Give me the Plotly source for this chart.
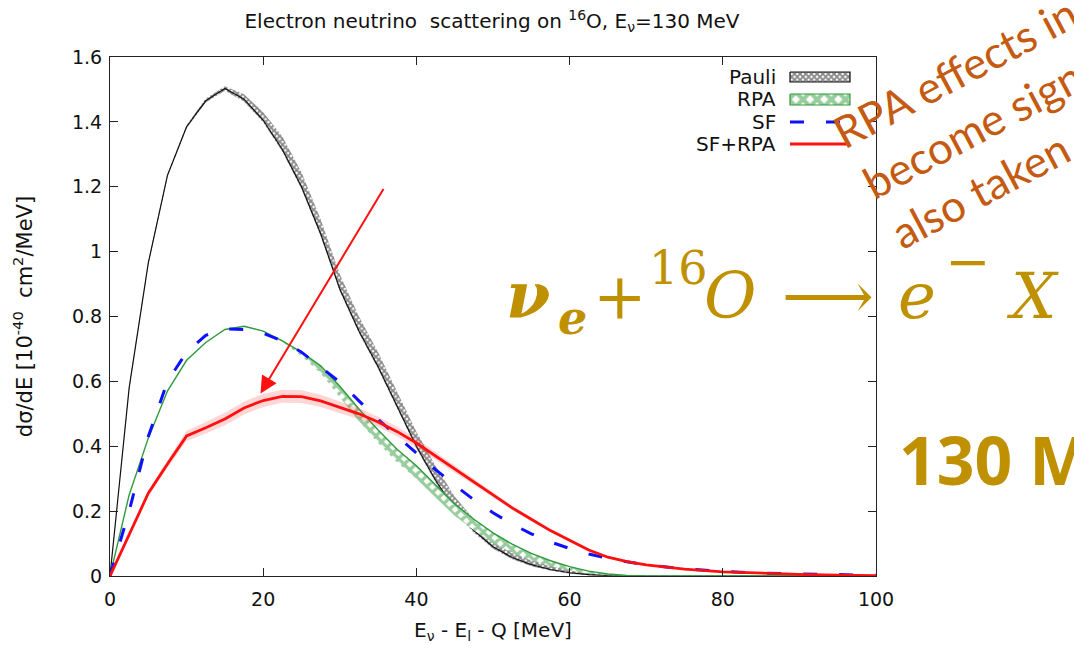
import plotly.graph_objects as go

# Energy transfer grid [MeV]
energy = [0, 2.5, 5, 7.5, 10, 12.5, 15, 17.5, 20, 22.5, 25, 27.5, 30, 32.5, 35, 37.5,
          40, 42.5, 45, 47.5, 50, 52.5, 55, 57.5, 60, 62.5, 65, 67.5, 70, 75, 80, 85,
          90, 95, 100]

# dσ/dE [1e-40 cm^2/MeV]
pauli = [0, 0.58, 0.965, 1.235, 1.385, 1.465, 1.503, 1.47, 1.405, 1.315, 1.2, 1.055,
         0.885, 0.755, 0.645, 0.52, 0.4, 0.295, 0.205, 0.14, 0.09, 0.057, 0.035, 0.02,
         0.01, 0.004, 0.001, 0, 0, 0, 0, 0, 0, 0, 0]
pauli_band_lo = [0, 0.575, 0.96, 1.23, 1.38, 1.46, 1.496, 1.462, 1.398, 1.308, 1.193,
                 1.048, 0.878, 0.748, 0.638, 0.513, 0.393, 0.288, 0.198, 0.133, 0.084,
                 0.052, 0.03, 0.016, 0.007, 0.002, 0, 0, 0, 0, 0, 0, 0, 0, 0]
pauli_band_hi = [0, 0.585, 0.97, 1.24, 1.39, 1.472, 1.51, 1.485, 1.43, 1.355, 1.245,
                 1.1, 0.93, 0.8, 0.69, 0.565, 0.445, 0.34, 0.245, 0.175, 0.12, 0.082,
                 0.054, 0.033, 0.018, 0.009, 0.003, 0, 0, 0, 0, 0, 0, 0, 0]

rpa = [0, 0.25, 0.425, 0.57, 0.665, 0.72, 0.76, 0.77, 0.755, 0.725, 0.69, 0.648, 0.585,
       0.515, 0.45, 0.39, 0.34, 0.28, 0.222, 0.175, 0.133, 0.098, 0.07, 0.047, 0.029,
       0.015, 0.006, 0.002, 0, 0, 0, 0, 0, 0, 0]
rpa_band_lo = [0, 0.25, 0.425, 0.57, 0.665, 0.72, 0.76, 0.77, 0.755, 0.722, 0.678,
               0.625, 0.55, 0.477, 0.41, 0.35, 0.3, 0.242, 0.186, 0.141, 0.102, 0.071,
               0.048, 0.03, 0.017, 0.008, 0.002, 0, 0, 0, 0, 0, 0, 0, 0]

sf = [0, 0.2, 0.43, 0.6, 0.69, 0.742, 0.762, 0.76, 0.748, 0.725, 0.69, 0.645, 0.598,
      0.54, 0.483, 0.43, 0.378, 0.328, 0.28, 0.235, 0.195, 0.16, 0.13, 0.105, 0.085,
      0.068, 0.054, 0.043, 0.034, 0.022, 0.014, 0.009, 0.006, 0.004, 0.002]

sf_rpa = [0, 0.125, 0.255, 0.345, 0.432, 0.457, 0.484, 0.518, 0.541, 0.554, 0.553, 0.54,
          0.52, 0.5, 0.475, 0.445, 0.41, 0.37, 0.33, 0.29, 0.25, 0.21, 0.175, 0.14,
          0.11, 0.08, 0.058, 0.044, 0.034, 0.021, 0.013, 0.008, 0.005, 0.003, 0.001]
sf_rpa_halfwidth = [0, 0.005, 0.008, 0.011, 0.016, 0.018, 0.019, 0.02, 0.02, 0.02,
                    0.02, 0.019, 0.018, 0.017, 0.016, 0.015, 0.014, 0.012, 0.01,
                    0.009, 0.008, 0.007, 0.006, 0.005, 0.005, 0.004, 0.004, 0.003,
                    0.003, 0.002, 0.002, 0.001, 0.001, 0.001, 0]

x_ticks = [0, 20, 40, 60, 80, 100]
y_ticks = [0, 0.2, 0.4, 0.6, 0.8, 1.0, 1.2, 1.4, 1.6]

legend_labels = ["Pauli", "RPA", "SF", "SF+RPA"]

# --- layout constants ---------------------------------------------------------
W, H = 1074, 649
L, R, T, B = 110, 198, 57, 73
AX_FONT = "DejaVu Sans, Verdana, sans-serif"
FS = 20
BLACK = "#111111"
GREEN = "#2f9a3c"
BLUE = "#1010ff"
RED = "#ff1010"
ORANGE = "#c55a11"
GOLD = "#bf9000"

PAULI_HATCH = dict(shape="x", fgcolor="#111111", bgcolor="white", size=4, solidity=0.7)
RPA_HATCH = dict(shape="x", fgcolor=GREEN, bgcolor="white", size=8, solidity=0.65)


def paper(xp, yp):
    """Convert page pixel position to paper fractions."""
    return (xp - L) / (W - L - R), (H - B - yp) / (H - T - B)


def band(x, lo, hi):
    return x + x[::-1], hi + lo[::-1]


fig = go.Figure()

# Pauli: hatched band with its central curve
bx, by = band(energy, pauli_band_lo, pauli_band_hi)
fig.add_trace(go.Scatter(x=bx, y=by, mode="lines", fill="toself",
                         line=dict(width=0, color=BLACK), fillcolor="rgba(0,0,0,0)",
                         fillpattern=PAULI_HATCH, hoverinfo="skip", showlegend=False))
fig.add_trace(go.Scatter(x=energy, y=pauli, mode="lines",
                         line=dict(color=BLACK, width=1.2), showlegend=False))

# RPA: hatched band with its central curve
bx, by = band(energy, rpa_band_lo, rpa)
fig.add_trace(go.Scatter(x=bx, y=by, mode="lines", fill="toself",
                         line=dict(width=0, color=GREEN), fillcolor="rgba(0,0,0,0)",
                         fillpattern=RPA_HATCH, hoverinfo="skip", showlegend=False))
fig.add_trace(go.Scatter(x=energy, y=rpa, mode="lines",
                         line=dict(color=GREEN, width=1.4), showlegend=False))

# SF: dashed blue
fig.add_trace(go.Scatter(x=energy, y=sf, mode="lines",
                         line=dict(color=BLUE, width=3, dash="14px,22px"),
                         showlegend=False))

# SF+RPA: red curve with a soft uncertainty band
lo = [v - w for v, w in zip(sf_rpa, sf_rpa_halfwidth)]
hi = [v + w for v, w in zip(sf_rpa, sf_rpa_halfwidth)]
bx, by = band(energy, lo, hi)
fig.add_trace(go.Scatter(x=bx, y=by, mode="lines", fill="toself",
                         line=dict(width=0, color=RED), fillcolor="rgba(255,70,70,0.22)",
                         hoverinfo="skip", showlegend=False))
fig.add_trace(go.Scatter(x=energy, y=sf_rpa, mode="lines",
                         line=dict(color=RED, width=2.8), showlegend=False))

# --- key (drawn on a pixel-unit overlay axis) ---------------------------------
key_rows = [77, 99, 122, 144]
key_x0, key_x1 = 790, 850
fig.add_trace(go.Scatter(x=[key_x0, key_x1, key_x1, key_x0, key_x0],
                         y=[72, 72, 82, 82, 72], xaxis="x2", yaxis="y2",
                         mode="lines", fill="toself", fillcolor="rgba(0,0,0,0)",
                         line=dict(color=BLACK, width=1.2), fillpattern=PAULI_HATCH,
                         hoverinfo="skip", showlegend=False))
fig.add_trace(go.Scatter(x=[key_x0, key_x1, key_x1, key_x0, key_x0],
                         y=[94, 94, 105, 105, 94], xaxis="x2", yaxis="y2",
                         mode="lines", fill="toself", fillcolor="rgba(0,0,0,0)",
                         line=dict(color=GREEN, width=1.2),
                         fillpattern=dict(RPA_HATCH, size=10),
                         hoverinfo="skip", showlegend=False))
fig.add_trace(go.Scatter(x=[key_x0, key_x1], y=[key_rows[2]] * 2, xaxis="x2", yaxis="y2",
                         mode="lines", line=dict(color=BLUE, width=3, dash="14px,22px"),
                         hoverinfo="skip", showlegend=False))
fig.add_trace(go.Scatter(x=[key_x0, key_x1], y=[key_rows[3]] * 2, xaxis="x2", yaxis="y2",
                         mode="lines", line=dict(color=RED, width=2.8),
                         hoverinfo="skip", showlegend=False))

annotations = []
for label, yp in zip(legend_labels, key_rows):
    px_, py_ = paper(778, yp)
    annotations.append(dict(text=label, x=px_, y=py_, xref="paper", yref="paper",
                            xanchor="right", yanchor="middle", showarrow=False,
                            font=dict(family=AX_FONT, size=FS, color=BLACK)))

# red pointer arrow onto the SF+RPA curve
annotations.append(dict(x=19.65, y=0.563, ax=35.82, ay=1.198, xref="x", yref="y",
                        axref="x", ayref="y", text="", showarrow=True, arrowhead=2,
                        arrowsize=1.7, arrowwidth=2, arrowcolor=RED, standoff=0))

# rotated remark
for line, (xp, yp) in zip(["RPA effects in", "become sign", "also taken"],
                          [(822, 161), (851, 211), (879, 261)]):
    px_, py_ = paper(xp, yp)
    annotations.append(dict(text=line, x=px_, y=py_, xref="paper", yref="paper",
                            xanchor="left", yanchor="bottom", textangle=-28,
                            showarrow=False,
                            font=dict(family="Lato, Open Sans, sans-serif", size=44,
                                      color=ORANGE)))

# reaction equation
MATH = "DejaVu Serif, DejaVu Sans, serif"
eq_parts = [
    ("<b><i>ν</i></b>", 528, 294, 64),
    ("<b><i>e</i></b>", 572, 318, 46),
    ("+", 620, 296, 64),
    ("16", 678, 268, 46),
    ("<i>O</i>", 730, 296, 64),
    ("⟶", 828, 296, 64),
    ("<i>e</i>", 917, 296, 64),
    ("−", 967, 261, 54),
    ("<i>X</i>", 1032, 296, 64),
]
for txt, xp, yp, size in eq_parts:
    px_, py_ = paper(xp, yp)
    annotations.append(dict(text=txt, x=px_, y=py_, xref="paper", yref="paper",
                            xanchor="center", yanchor="middle", showarrow=False,
                            font=dict(family=MATH, size=size, color=GOLD)))

px_, py_ = paper(897, 459)
annotations.append(dict(text="<b>130 M</b>", x=px_, y=py_, xref="paper", yref="paper",
                        xanchor="left", yanchor="middle", showarrow=False,
                        font=dict(family="Open Sans, sans-serif", size=66, color=GOLD)))

axis_common = dict(showline=True, linecolor="#222222", linewidth=1, mirror="allticks",
                   ticks="inside", ticklen=8, tickwidth=1, tickcolor="#222222",
                   showgrid=False, zeroline=False,
                   tickfont=dict(family=AX_FONT, size=19, color=BLACK))

fig.update_layout(
    width=W, height=H,
    margin=dict(l=L, r=R, t=T, b=B, autoexpand=False),
    paper_bgcolor="white", plot_bgcolor="white",
    title=dict(text="Electron neutrino\u00a0 scattering on <sup>16</sup>O, E<sub>ν</sub>=130 MeV",
               x=paper(492, 0)[0], xref="paper", xanchor="center",
               y=1 - 21 / H, yref="container", yanchor="middle",
               font=dict(family=AX_FONT, size=FS, color=BLACK)),
    xaxis=dict(range=[0, 100], tickvals=x_ticks, ticklabelstandoff=6,
               title=dict(text="E<sub>ν</sub> - E<sub>l</sub> - Q [MeV]",
                          font=dict(family=AX_FONT, size=FS, color=BLACK), standoff=14),
               **axis_common),
    yaxis=dict(range=[0, 1.6], tickvals=y_ticks, ticklabelstandoff=3,
               title=dict(text="dσ/dE [10<sup>-40</sup>\u00a0 cm<sup>2</sup>/MeV]",
                          font=dict(family=AX_FONT, size=FS + 1, color=BLACK), standoff=33),
               **axis_common),
    xaxis2=dict(overlaying="x", range=[L, W - R], visible=False, fixedrange=True),
    yaxis2=dict(overlaying="y", range=[H - B, T], visible=False, fixedrange=True),
    annotations=annotations,
    showlegend=False,
)

fig.write_html("out.html")
